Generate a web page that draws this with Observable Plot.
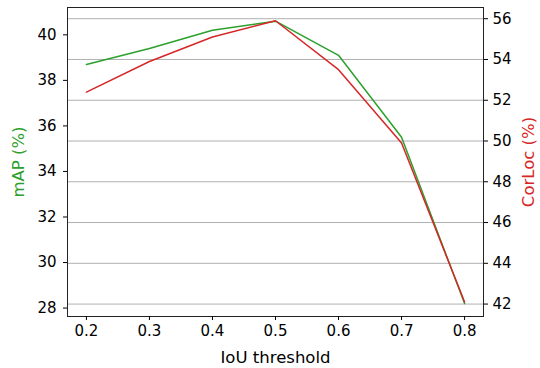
<!DOCTYPE html>
<html>
<head>
<meta charset="utf-8">
<script src="https://cdn.jsdelivr.net/npm/d3@7"></script>
<script src="https://cdn.jsdelivr.net/npm/@observablehq/plot@0.6"></script>
<style>
  html, body { margin: 0; padding: 0; background: white; }
</style>
</head>
<body>
<div id="chart"></div>
<script>
const iou = [0.2, 0.3, 0.4, 0.5, 0.6, 0.7, 0.8];
const mAP = [38.7, 39.4, 40.2, 40.6, 39.1, 35.5, 28.2];
const corloc = [52.4, 53.9, 55.1, 55.9, 53.5, 49.9, 42.1];
const leftTicks = [28, 30, 32, 34, 36, 38, 40];
const rightTicks = [42, 44, 46, 48, 50, 52, 54, 56];
const xTicks = [0.2, 0.3, 0.4, 0.5, 0.6, 0.7, 0.8];

const green = "#2ca02c";
const red = "#d62728";
const leftDomain = [27.63, 41.2];
const rightDomain = [41.39, 56.55];
const toLeft = v => leftDomain[0] + (v - rightDomain[0]) * (leftDomain[1] - leftDomain[0]) / (rightDomain[1] - rightDomain[0]);
const toRight = v => rightDomain[0] + (v - leftDomain[0]) * (rightDomain[1] - rightDomain[0]) / (leftDomain[1] - leftDomain[0]);

const mapData = iou.map((x, i) => ({x, y: mAP[i]}));
const corData = iou.map((x, i) => ({x, y: toLeft(corloc[i])}));

const chart = Plot.plot({
  width: 540,
  height: 368,
  marginLeft: 67,
  marginRight: 57,
  marginTop: 7,
  marginBottom: 52,
  style: {fontFamily: "DejaVu Sans", fontSize: "15px", color: "black", background: "white"},
  x: {domain: [0.17, 0.83]},
  y: {domain: leftDomain},
  marks: [
    Plot.gridY(rightTicks.map(toLeft), {stroke: "#b0b0b0", strokeOpacity: 1, strokeWidth: 1}),
    Plot.line(mapData, {x: "x", y: "y", stroke: green, strokeWidth: 1.5}),
    Plot.line(corData, {x: "x", y: "y", stroke: red, strokeWidth: 1.5}),
    Plot.frame({stroke: "#222", strokeWidth: 1}),
    Plot.axisY(leftTicks, {anchor: "left", tickSize: 4, tickPadding: 7, tickFormat: d => String(d), label: null, fontSize: 15}),
    Plot.axisY(rightTicks.map(toLeft), {anchor: "right", tickSize: 4, tickPadding: 5, tickFormat: d => String(Math.round(toRight(d))), label: null, fontSize: 15}),
    Plot.axisX(xTicks, {anchor: "bottom", tickSize: 4, tickPadding: 5, tickFormat: d => d.toFixed(1), label: null, fontSize: 15}),
    Plot.text(["mAP (%)"], {frameAnchor: "left", dx: -49, rotate: -90, textAnchor: "middle", lineAnchor: "middle", fill: green, fontSize: 16.5, text: d => d}),
    Plot.text(["CorLoc (%)"], {frameAnchor: "right", dx: 45, rotate: -90, textAnchor: "middle", lineAnchor: "middle", fill: red, fontSize: 16.5, text: d => d}),
    Plot.text(["IoU threshold"], {frameAnchor: "bottom", dy: 41, textAnchor: "middle", lineAnchor: "middle", fill: "black", fontSize: 16.5, text: d => d})
  ]
});
document.getElementById("chart").appendChild(chart);
</script>
</body>
</html>
